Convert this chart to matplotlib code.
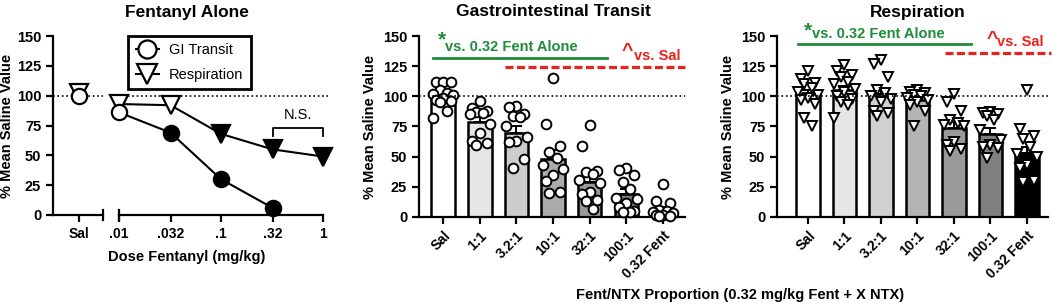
import numpy as np
import matplotlib.pyplot as plt
from matplotlib.lines import Line2D

plt.rcParams['font.family'] = ['Liberation Sans', 'DejaVu Sans']
plt.rcParams['font.weight'] = 'bold'
plt.rcParams['axes.linewidth'] = 1.6
plt.rcParams['xtick.major.width'] = 1.6
plt.rcParams['ytick.major.width'] = 1.6
plt.rcParams['xtick.major.size'] = 5
plt.rcParams['ytick.major.size'] = 5

# ---- Fentanyl alone (dose-effect) ----
doses = [0.01, 0.032, 0.1, 0.32, 1]
dose_labels = ['.01', '.032', '.1', '.32', '1']
gi_sal = 100
gi_vals = [86, 69, 30, 6]          # .01 - .32
gi_sig = [False, True, True, True]
resp_sal = 102
resp_vals = [93, 92, 68, 55, 49]   # .01 - 1
resp_sig = [False, False, True, True, True]

# ---- Fent/NTX proportions ----
groups = ['Sal', '1:1', '3.2:1', '10:1', '32:1', '100:1', '0.32 Fent']
gi_mean = [100, 79, 70, 48, 29, 19, 6]
gi_sem = [3, 4, 5.5, 7.5, 4, 4.5, 2.5]
gi_points = [
    [112, 112, 112, 105, 103, 102, 101, 99, 97, 96, 95, 88, 82],
    [96, 90, 88, 87, 86, 85, 77, 70, 63, 61, 60],
    [92, 91, 85, 84, 83, 75, 66, 63, 62, 48, 41],
    [115, 77, 59, 54, 49, 43, 40, 35, 30, 21, 20],
    [76, 59, 38, 37, 36, 31, 28, 21, 19, 14, 13, 7],
    [41, 39, 35, 29, 23, 16, 15, 12, 8, 5, 4, 4],
    [27, 13, 12, 6, 5, 4, 3, 2, 2, 1, 1],
]
resp_mean = [102, 105, 102, 97, 74, 69, 53]
resp_sem = [3.5, 3.5, 3.5, 2.5, 5, 5, 5]
resp_points = [
    [121, 114, 111, 110, 107, 104, 101, 99, 97, 94, 82, 75],
    [126, 121, 118, 116, 112, 110, 106, 104, 100, 98, 95, 93, 82],
    [130, 127, 116, 105, 103, 100, 98, 95, 88, 86, 84],
    [105, 104, 103, 101, 100, 99, 97, 95, 93, 88, 75],
    [102, 95, 88, 80, 78, 76, 75, 62, 60, 56, 55],
    [87, 86, 85, 84, 80, 72, 64, 60, 58, 57, 49],
    [105, 73, 67, 65, 58, 52, 50, 43, 41, 30, 29],
]
gi_colors = ['white', '#e6e6e6', '#cdcdcd', '#ababab', '#9a9a9a', '#7a7a7a', '#606060']
resp_colors = ['white', '#e6e6e6', '#d0d0d0', '#b4b4b4', '#999999', '#7f7f7f', 'black']

GREEN = '#1f8b3b'
RED = '#e8221e'

W, H = 1053, 307
fig = plt.figure(figsize=(W / 100, H / 100), dpi=100)


def px_axes(x0, x1, ytop, ybot):
    return fig.add_axes([x0 / W, 1 - ybot / H, (x1 - x0) / W, (ybot - ytop) / H])


def style_y(ax):
    ax.set_ylim(0, 150)
    ax.set_yticks(range(0, 151, 25))
    ax.tick_params(axis='y', labelsize=10.5)
    ax.tick_params(axis='x', labelsize=10)
    ax.spines['top'].set_visible(False)
    ax.spines['right'].set_visible(False)


# ---------- Panel 1 ----------
axs = px_axes(53, 103, 36, 215)
axd = px_axes(119, 328, 36, 215)
style_y(axs)
axs.set_xlim(-1.04, 0.96)
axs.set_xticks([0])
axs.set_xticklabels(['Sal'])
axs.set_ylabel('% Mean Saline Value', fontsize=10.5, fontweight='bold')
axs.yaxis.set_label_coords(-0.77, 0.5)

axd.set_ylim(0, 150)
axd.set_xscale('log')
axd.set_xlim(0.01, 1.12)
axd.set_xticks(doses)
axd.set_xticklabels(dose_labels)
axd.minorticks_off()
axd.tick_params(labelsize=10)
axd.spines['bottom'].set_bounds(0.01, 1)
for s in ['top', 'right', 'left']:
    axd.spines[s].set_visible(False)
axd.set_yticks([])

for a in (axs, axd):
    a.axhline(100, ls=':', color='black', lw=1.2, zorder=1)
    a.patch.set_alpha(0)

# break marks
axs.plot([1, 1], [-0.03, 0.03], transform=axs.transAxes, color='black', lw=1.6, clip_on=False)
axd.plot([0, 0], [-0.03, 0.03], transform=axd.transAxes, color='black', lw=1.6, clip_on=False)

ms_c, ms_t = 11, 13
axs.plot([0], [resp_sal], 'v', ms=ms_t, mfc='white', mec='black', mew=1.6, clip_on=False, zorder=3)
axs.plot([0], [gi_sal], 'o', ms=ms_c, mfc='white', mec='black', mew=1.6, clip_on=False, zorder=4)

axd.plot(doses, resp_vals, '-', color='black', lw=1.5, zorder=2, clip_on=False)
for d, v, s in zip(doses, resp_vals, resp_sig):
    axd.plot([d], [v], 'v', ms=ms_t, mfc='black' if s else 'white', mec='black', mew=1.6,
             clip_on=False, zorder=3)
axd.plot(doses[:4], gi_vals, '-', color='black', lw=1.5, zorder=2, clip_on=False)
for d, v, s in zip(doses[:4], gi_vals, gi_sig):
    axd.plot([d], [v], 'o', ms=ms_c, mfc='black' if s else 'white', mec='black', mew=1.6,
             clip_on=False, zorder=4)

# N.S. bracket
axd.plot([0.32, 0.32, 1, 1], [66, 73, 73, 66], color='black', lw=1.3)
axd.text(np.sqrt(0.32), 78, 'N.S.', ha='center', va='bottom', fontsize=10.5, fontweight='normal')

handles = [
    Line2D([], [], marker='o', ls='-', color='black', ms=13, mfc='white', mew=1.6),
    Line2D([], [], marker='v', ls='-', color='black', ms=14, mfc='white', mew=1.6),
]
leg = axd.legend(handles, ['GI Transit', 'Respiration'], loc='upper left',
                 bbox_to_anchor=(0.01, 1.04), fancybox=False, edgecolor='black',
                 framealpha=1, handlelength=1.6, borderpad=0.5, labelspacing=0.7,
                 handletextpad=0.7, prop={'size': 10.5, 'weight': 'normal'})
leg.get_frame().set_linewidth(2)

fig.text(187 / W, 1 - 12 / H, 'Fentanyl Alone', ha='center', va='center', fontsize=12.5)
fig.text(187 / W, 1 - 257 / H, 'Dose Fentanyl (mg/kg)', ha='center', va='center', fontsize=10.5)


# ---------- Panels 2 and 3 ----------
def swarm_offsets(vals):
    pattern = [0, -0.2, 0.2, -0.1, 0.1, -0.28, 0.28]
    order = np.argsort(vals)[::-1]
    off = np.zeros(len(vals))
    for k, i in enumerate(order):
        off[i] = pattern[k % len(pattern)]
    return off


def bar_panel(ax, means, sems, points, colors, marker, xlim):
    x = np.arange(len(groups))
    style_y(ax)
    ax.set_xlim(*xlim)
    ax.bar(x, means, width=0.64, color=colors, edgecolor='black', linewidth=1.8, zorder=2)
    ax.errorbar(x, means, yerr=[np.zeros(len(x)), sems], fmt='none', ecolor='black',
                elinewidth=1.4, capsize=4, capthick=1.4, zorder=3)
    for i, pts in enumerate(points):
        off = swarm_offsets(pts)
        ax.plot(x[i] + off, pts, marker, ls='none', ms=7 if marker == 'o' else 7.5,
                mfc='white', mec='black', mew=1.4, zorder=4, clip_on=False)
    ax.axhline(100, ls=':', color='black', lw=1.2, zorder=5)
    ax.set_xticks(x)
    ax.set_xticklabels(groups, rotation=45, ha='right', rotation_mode='anchor')
    ax.set_ylabel('% Mean Saline Value', fontsize=10.5, fontweight='bold', labelpad=4)


ax2 = px_axes(419, 685, 36, 217)
bar_panel(ax2, gi_mean, gi_sem, gi_points, gi_colors, 'o', (-0.66, 6.6))
ax2.plot([-0.27, 4.48], [131.5, 131.5], color=GREEN, lw=2, clip_on=False)
ax2.text(-0.03, 147, '*', color=GREEN, fontsize=15, ha='center', va='center')
ax2.text(0.06, 137.5, 'vs. 0.32 Fent Alone', color=GREEN, fontsize=10.5, va='baseline')
ax2.plot([1.7, 6.6], [124.5, 124.5], color=RED, lw=2.3, dashes=(2.5, 1.1), clip_on=False)
ax2.text(5.03, 137, '^', color=RED, fontsize=14, ha='center', va='center')
ax2.text(5.2, 130, 'vs. Sal', color=RED, fontsize=10.5, va='baseline')

ax3 = px_axes(777, 1048, 36, 217)
bar_panel(ax3, resp_mean, resp_sem, resp_points, resp_colors, 'v', (-0.85, 6.58))
ax3.plot([-0.27, 4.47], [143.4, 143.4], color=GREEN, lw=2, clip_on=False)
ax3.text(0.0, 154, '*', color=GREEN, fontsize=15, ha='center', va='center', clip_on=False)
ax3.text(0.12, 148.5, 'vs. 0.32 Fent Alone', color=GREEN, fontsize=10.5, va='baseline', clip_on=False)
ax3.plot([3.75, 6.65], [135.6, 135.6], color=RED, lw=2.3, dashes=(2.5, 1.1), clip_on=False)
ax3.text(5.04, 147, '^', color=RED, fontsize=14, ha='center', va='center')
ax3.text(5.17, 142, 'vs. Sal', color=RED, fontsize=10.5, va='baseline')

fig.text(553 / W, 1 - 12 / H, 'Gastrointestinal Transit', ha='center', va='center', fontsize=12.5)
fig.text(918 / W, 1 - 12 / H, 'Respiration', ha='center', va='center', fontsize=12.5)
fig.text(740 / W, 1 - 295 / H, 'Fent/NTX Proportion (0.32 mg/kg Fent + X NTX)',
         ha='center', va='center', fontsize=10.5)

fig.savefig('out.png', dpi=100)
